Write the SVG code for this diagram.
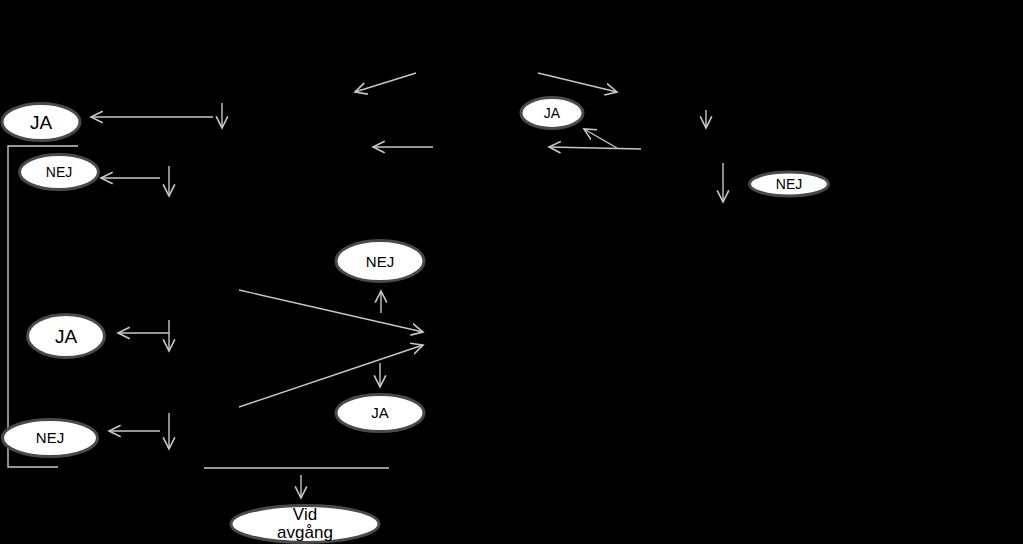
<svg xmlns="http://www.w3.org/2000/svg" width="1023" height="544" viewBox="0 0 1023 544">
<style>
.bg{fill:#000}
.n ellipse{fill:#fff;stroke:#4a4a4a;stroke-width:3}
.n text{font-family:"Liberation Sans",Arial,sans-serif;fill:#000;text-anchor:middle}
.c line,.c polyline{stroke:#c8c8c8;stroke-width:1.4;fill:none}
.c .a{marker-end:url(#ah)}
</style>
<defs>
<marker id="ah" markerUnits="userSpaceOnUse" markerWidth="14" markerHeight="14" refX="10" refY="5" orient="auto" viewBox="0 0 12 10">
<path d="M0,0 L10,5 L0,10" fill="none" stroke="#c8c8c8" stroke-width="1.4"/>
</marker>
</defs>
<rect class="bg" x="0" y="0" width="1023" height="544"/>
<g class="c" id="connectors">
<line class="a" x1="213" y1="117" x2="91" y2="117"/>
<line class="a" x1="222" y1="103" x2="222" y2="128"/>
<polyline points="78,146 8,146 8,467 58,467"/>
<line class="a" x1="160" y1="178" x2="101" y2="178"/>
<line class="a" x1="169" y1="166" x2="169" y2="196"/>
<line class="a" x1="416" y1="73" x2="355" y2="92"/>
<line class="a" x1="538" y1="73" x2="617" y2="92"/>
<line class="a" x1="433" y1="147" x2="373" y2="147"/>
<line class="a" x1="641" y1="149" x2="549" y2="147"/>
<line class="a" x1="617" y1="148" x2="584" y2="129"/>
<line class="a" x1="706" y1="110" x2="706" y2="128"/>
<line class="a" x1="723" y1="163" x2="723" y2="202"/>
<line class="a" x1="169" y1="333" x2="118" y2="333"/>
<line class="a" x1="169" y1="320" x2="169" y2="351"/>
<line class="a" x1="160" y1="431" x2="109" y2="431"/>
<line class="a" x1="169" y1="413" x2="169" y2="449"/>
<line class="a" x1="381" y1="313" x2="381" y2="291"/>
<line class="a" x1="239" y1="290" x2="423" y2="332"/>
<line class="a" x1="239" y1="407" x2="423" y2="345"/>
<line class="a" x1="380" y1="363" x2="380" y2="387"/>
<line x1="204" y1="468" x2="389" y2="468"/>
<line class="a" x1="301" y1="475" x2="301" y2="498"/>
</g>
<g class="n" id="n-ja1"><ellipse cx="41" cy="122" rx="39" ry="18.5"/><text x="41" y="129" font-size="19">JA</text></g>
<g class="n" id="n-nej1"><ellipse cx="59" cy="172" rx="39.5" ry="17.5"/><text x="59" y="177" font-size="14">NEJ</text></g>
<g class="n" id="n-ja2"><ellipse cx="552" cy="113" rx="31" ry="15.5"/><text x="552" y="118" font-size="14">JA</text></g>
<g class="n" id="n-nej2"><ellipse cx="789" cy="184" rx="39.5" ry="12"/><text x="789" y="189" font-size="14">NEJ</text></g>
<g class="n" id="n-nej3"><ellipse cx="380" cy="261" rx="44" ry="20.5"/><text x="380" y="267" font-size="15">NEJ</text></g>
<g class="n" id="n-ja3"><ellipse cx="66" cy="336" rx="38.5" ry="21.5"/><text x="66" y="343" font-size="19">JA</text></g>
<g class="n" id="n-ja4"><ellipse cx="380" cy="413" rx="44" ry="18.5"/><text x="380" y="418" font-size="15">JA</text></g>
<g class="n" id="n-nej4"><ellipse cx="50" cy="438" rx="47.5" ry="18.5"/><text x="50" y="443" font-size="15">NEJ</text></g>
<g class="n" id="n-vid"><ellipse cx="305" cy="524" rx="74" ry="18.5"/><text x="305" y="520" font-size="17">Vid</text><text x="305" y="538" font-size="17">avgång</text></g>
</svg>
